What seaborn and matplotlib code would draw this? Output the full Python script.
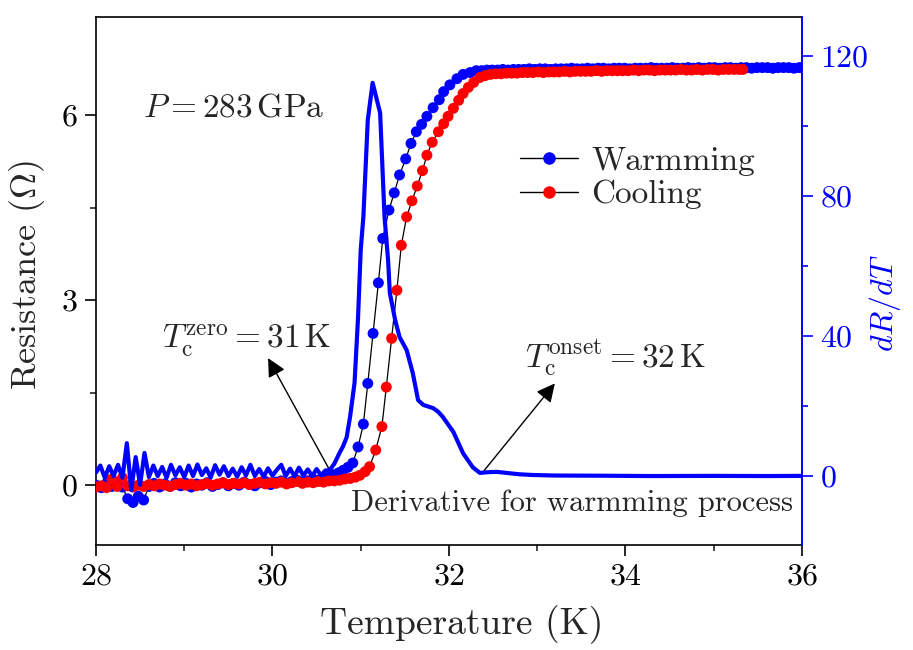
import matplotlib
matplotlib.use("Agg")
import matplotlib.pyplot as plt
import seaborn as sns
from matplotlib.lines import Line2D

# ---------------- data ----------------
T_warm = [28.00, 28.06, 28.12, 28.18, 28.24, 28.30, 28.36, 28.42, 28.48, 28.54,
          28.60, 28.66, 28.72, 28.78, 28.84, 28.90, 28.96, 29.02, 29.08, 29.14,
          29.20, 29.26, 29.32, 29.38, 29.44, 29.50, 29.56, 29.62, 29.68, 29.74,
          29.80, 29.86, 29.92, 29.98, 30.04, 30.10, 30.16, 30.22, 30.28, 30.34,
          30.40, 30.46, 30.52, 30.58, 30.64, 30.70, 30.75,
          30.80, 30.855, 30.91, 30.97, 31.03, 31.08, 31.14, 31.20, 31.25, 31.32,
          31.38, 31.44, 31.51, 31.57, 31.63, 31.69, 31.75, 31.82, 31.89, 31.94,
          32.01, 32.09, 32.16, 32.24, 32.31,
          32.37, 32.43, 32.49, 32.55, 32.61, 32.67, 32.73, 32.79, 32.85, 32.91,
          32.97, 33.03, 33.09, 33.15, 33.21, 33.27, 33.33, 33.39, 33.45, 33.51,
          33.57, 33.63, 33.69, 33.75, 33.81, 33.87, 33.93, 33.99, 34.05, 34.11,
          34.17, 34.23, 34.29, 34.35, 34.41, 34.47, 34.53, 34.59, 34.65, 34.71,
          34.77, 34.83, 34.89, 34.95, 35.01, 35.07, 35.13, 35.19, 35.25, 35.31,
          35.37, 35.43, 35.49, 35.55, 35.61, 35.67, 35.73, 35.79, 35.85, 35.91,
          35.97, 36.00]
R_warm = [0.00, -0.04, 0.03, -0.02, 0.04, -0.03, -0.22, -0.28, -0.18, -0.24,
          -0.02, 0.03, -0.03, 0.02, -0.02, 0.04, -0.01, 0.03, -0.03, 0.02,
          0.00, 0.04, -0.02, 0.01, 0.04, -0.01, 0.03, 0.00, 0.05, 0.01,
          -0.01, 0.04, 0.06, 0.01, 0.05, 0.07, 0.03, 0.06, 0.08, 0.05,
          0.07, 0.10, 0.08, 0.11, 0.13, 0.17, 0.20,
          0.24, 0.29, 0.36, 0.62, 0.99, 1.65, 2.46, 3.28, 4.00, 4.46,
          4.74, 5.03, 5.29, 5.54, 5.73, 5.85, 5.98, 6.12, 6.25, 6.38,
          6.49, 6.59, 6.66, 6.69, 6.72,
          6.72, 6.73, 6.73, 6.73, 6.74, 6.73, 6.74, 6.74, 6.74, 6.75,
          6.74, 6.75, 6.75, 6.74, 6.75, 6.75, 6.75, 6.76, 6.75, 6.75,
          6.76, 6.75, 6.76, 6.76, 6.75, 6.76, 6.76, 6.76, 6.75, 6.76,
          6.76, 6.76, 6.77, 6.76, 6.76, 6.76, 6.77, 6.76, 6.76, 6.77,
          6.76, 6.77, 6.76, 6.77, 6.77, 6.76, 6.77, 6.77, 6.76, 6.77,
          6.77, 6.76, 6.77, 6.77, 6.77, 6.76, 6.77, 6.77, 6.77, 6.76,
          6.77, 6.77]

T_cool = [28.00, 28.06, 28.12, 28.18, 28.24, 28.30, 28.36, 28.42, 28.48, 28.54,
          28.60, 28.66, 28.72, 28.78, 28.84, 28.90, 28.96, 29.02, 29.08, 29.14,
          29.20, 29.26, 29.32, 29.38, 29.44, 29.50, 29.56, 29.62, 29.68, 29.74,
          29.80, 29.86, 29.92, 29.98, 30.04, 30.10, 30.16, 30.22, 30.28, 30.34,
          30.40, 30.46, 30.52, 30.58, 30.64, 30.70,
          30.76, 30.82, 30.88, 30.94, 30.99, 31.05, 31.10, 31.17, 31.24, 31.29,
          31.35, 31.41, 31.46, 31.52, 31.58, 31.64, 31.70, 31.75, 31.81, 31.88,
          31.94, 31.99, 32.05, 32.11, 32.16, 32.22, 32.28, 32.35, 32.41,
          32.47, 32.53, 32.59, 32.65, 32.71, 32.77, 32.83, 32.89, 32.95, 33.01,
          33.07, 33.13, 33.19, 33.25, 33.31, 33.37, 33.43, 33.49, 33.55, 33.61,
          33.67, 33.73, 33.79, 33.85, 33.91, 33.97, 34.03, 34.09, 34.15, 34.21,
          34.27, 34.33, 34.39, 34.45, 34.51, 34.57, 34.63, 34.69, 34.75, 34.81,
          34.87, 34.93, 34.99, 35.05, 35.11, 35.17, 35.23, 35.29, 35.33]
R_cool = [-0.03, -0.01, -0.04, 0.10, -0.02, 0.12, -0.01, -0.03, 0.00, -0.02,
          0.01, -0.01, 0.02, 0.00, -0.02, 0.01, 0.03, 0.00, 0.02, -0.01,
          0.01, 0.03, 0.00, 0.02, 0.04, 0.01, 0.03, 0.02, 0.04, 0.01,
          0.03, 0.05, 0.02, 0.04, 0.03, 0.05, 0.02, 0.04, 0.06, 0.03,
          0.05, 0.04, 0.06, 0.05, 0.07, 0.07,
          0.08, 0.10, 0.11, 0.13, 0.16, 0.22, 0.30, 0.57, 0.95, 1.59,
          2.38, 3.16, 3.89, 4.35, 4.61, 4.85, 5.10, 5.35, 5.56, 5.73,
          5.86, 5.98, 6.11, 6.24, 6.35, 6.45, 6.53, 6.61, 6.64,
          6.66, 6.67, 6.67, 6.68, 6.68, 6.68, 6.69, 6.69, 6.69, 6.70,
          6.69, 6.70, 6.70, 6.70, 6.71, 6.70, 6.71, 6.71, 6.71, 6.71,
          6.72, 6.71, 6.72, 6.72, 6.72, 6.72, 6.72, 6.73, 6.72, 6.73,
          6.73, 6.72, 6.73, 6.73, 6.73, 6.73, 6.74, 6.73, 6.73, 6.74,
          6.73, 6.74, 6.74, 6.73, 6.74, 6.74, 6.74, 6.74, 6.74]

T_deriv = [28.00, 28.05, 28.10, 28.15, 28.20, 28.25, 28.30, 28.35, 28.40, 28.45,
           28.50, 28.55, 28.60, 28.65, 28.70, 28.75, 28.80, 28.85, 28.90, 28.95,
           29.00, 29.05, 29.10, 29.15, 29.20, 29.25, 29.30, 29.35, 29.40, 29.45,
           29.50, 29.55, 29.60, 29.65, 29.70, 29.75, 29.80, 29.85, 29.90, 29.95,
           30.00, 30.05, 30.10, 30.15, 30.20, 30.25, 30.30, 30.35, 30.40, 30.45,
           30.50, 30.55, 30.60,
           30.65, 30.70, 30.76, 30.80, 30.84, 30.88, 30.93, 30.97, 31.00, 31.03,
           31.08, 31.135, 31.22, 31.27, 31.31, 31.33, 31.39, 31.44,
           31.52, 31.59, 31.65, 31.71, 31.76, 31.82, 31.88, 31.93, 32.05, 32.16,
           32.27, 32.35, 32.44, 32.54, 32.65, 32.80, 32.95, 33.20, 33.70, 34.30,
           35.00, 35.60, 36.00]
dRdT = [1.0, 3.0, -0.5, 2.8, 0.0, 3.2, -0.5, 9.4, -4.0, 5.4,
        -2.5, 6.6, -0.3, 3.0, 0.0, 2.6, -0.5, 3.2, 0.2, 2.5,
        -0.3, 3.0, 0.0, 3.3, 0.3, 2.2, -0.4, 3.1, 0.4, 2.8,
        0.0, 2.1, -0.2, 2.5, 0.2, 3.2, 0.0, 2.0, -0.2, 2.2,
        0.1, 1.8, 3.2, 0.0, 2.1, -0.1, 2.4, 0.1, 1.9, 0.0,
        2.0, 0.2, 1.6,
        1.7, 3.5, 6.6, 8.5, 11.0, 17.0, 26.6, 45.4, 64.6, 74.0,
        101.7, 112.3, 103.7, 74.0, 61.7, 52.3, 44.6, 39.7,
        36.0, 29.4, 21.7, 20.3, 19.9, 19.4, 18.3, 16.9, 12.6, 6.5,
        2.5, 0.9, 1.1, 1.2, 0.9, 0.5, 0.3, 0.15, 0.1, 0.0,
        0.05, 0.0, 0.05]

series_labels = ["Warmming", "Cooling"]
x_ticks = [28, 30, 32, 34, 36]
left_ticks = [0, 3, 6]
right_ticks = [0, 40, 80, 120]

# ---------------- style ----------------
sns.set_theme(style="ticks")
plt.rcParams.update({
    "font.family": "serif",
    "font.serif": ["cmr10", "DejaVu Serif"],
    "mathtext.fontset": "cm",
    "axes.formatter.use_mathtext": True,
    "axes.unicode_minus": True,
})

TICK_FS = 23
LABEL_FS = 27
ANN_FS = 24
BLUE = "#0000ff"
RED = "#ff0000"

fig = plt.figure(figsize=(9.13, 6.5), dpi=100)
ax = fig.add_axes([0.1051, 0.1615, 0.7733, 0.8123])

sns.lineplot(x=T_warm, y=R_warm, ax=ax, color="black", lw=0.9, sort=False,
             estimator=None, zorder=2)
sns.scatterplot(x=T_warm, y=R_warm, ax=ax, color=BLUE, s=62, linewidth=0,
                edgecolor="none", zorder=3)
sns.lineplot(x=T_cool, y=R_cool, ax=ax, color="black", lw=0.9, sort=False,
             estimator=None, zorder=4)
sns.scatterplot(x=T_cool, y=R_cool, ax=ax, color=RED, s=62, linewidth=0,
                edgecolor="none", zorder=5)

ax.set_xlim(28, 36)
ax.set_ylim(-0.97, 7.59)
ax.set_xticks(x_ticks)
ax.set_yticks(left_ticks)
ax.set_xticks([29, 31, 33, 35], minor=True)
ax.set_yticks([1.5, 4.5], minor=True)
ax.tick_params(axis="both", which="major", direction="out", length=8, width=1.2,
               labelsize=TICK_FS, colors="black", pad=5)
ax.tick_params(axis="both", which="minor", direction="out", length=4.5, width=1.2)
ax.tick_params(axis="x", which="both", top=False)
ax.tick_params(axis="y", which="both", right=False)
for s in ["left", "bottom", "top"]:
    ax.spines[s].set_color("black")
    ax.spines[s].set_linewidth(1.2)
ax.spines["right"].set_visible(False)
ax.set_xlabel("Temperature (K)", fontsize=LABEL_FS)
ax.xaxis.set_label_coords(0.518, -0.113)
ax.set_ylabel(r"Resistance ($\mathit{\Omega}$)", fontsize=26)
ax.yaxis.set_label_coords(-0.07, 0.511)

# annotations on resistance axis
ax.text(28.53, 5.97, r"$P = 283\,\mathrm{GPa}$", fontsize=ANN_FS, ha="left", va="baseline")
ax.text(28.75, 2.22, r"$T_\mathrm{c}^\mathrm{zero} = 31\,\mathrm{K}$", fontsize=ANN_FS,
        ha="left", va="baseline")
ax.text(32.86, 1.90, r"$T_\mathrm{c}^\mathrm{onset} = 32\,\mathrm{K}$", fontsize=ANN_FS,
        ha="left", va="baseline")
ax.text(35.90, -0.42, "Derivative for warmming process", fontsize=22,
        ha="right", va="baseline")
arrow = dict(arrowstyle="-|>", color="black", lw=1.0, mutation_scale=28,
             shrinkA=0, shrinkB=0)
ax.annotate("", xy=(29.95, 2.06), xytext=(30.65, 0.24), arrowprops=arrow, zorder=10)
ax.annotate("", xy=(33.20, 1.65), xytext=(32.40, 0.24), arrowprops=arrow, zorder=10)

# derivative on twin axis
ax2 = ax.twinx()
sns.lineplot(x=T_deriv, y=dRdT, ax=ax2, color=BLUE, lw=3.0, sort=False, estimator=None)
ax2.set_ylim(-19.7, 131.1)
ax2.set_yticks(right_ticks)
ax2.set_yticks([20, 60, 100], minor=True)
ax2.tick_params(axis="y", which="major", direction="out", length=8, width=1.2,
                labelsize=TICK_FS, colors=BLUE, pad=5)
ax2.tick_params(axis="y", which="minor", direction="out", length=4.5, width=1.2,
                colors=BLUE)
ax2.spines["right"].set_color(BLUE)
ax2.spines["right"].set_linewidth(1.4)
for s in ["left", "top", "bottom"]:
    ax2.spines[s].set_visible(False)
ax2.set_ylabel(r"$dR/dT$", fontsize=23, color=BLUE, rotation=90,
               ha="center", va="center")
ax2.yaxis.set_label_coords(1.117, 0.458)

handles = [Line2D([0], [0], color="black", lw=1.0, marker="o", markersize=8,
                  markerfacecolor=c, markeredgecolor=c) for c in (BLUE, RED)]
ax2.legend(handles, series_labels, loc="center left", bbox_to_anchor=(0.60, 0.695),
           frameon=False, fontsize=24, borderpad=0, borderaxespad=0,
           handlelength=1.75, handletextpad=0.4, labelspacing=0.12)

fig.savefig("out.png", dpi=100)
